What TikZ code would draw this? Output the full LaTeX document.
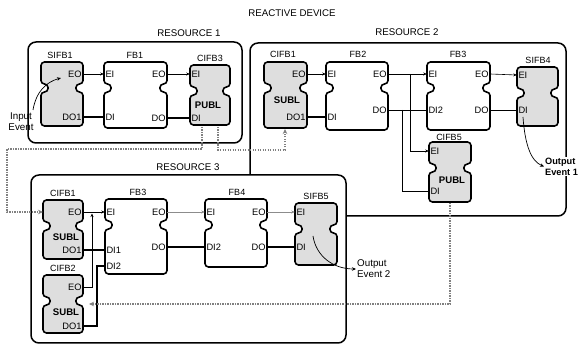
\documentclass[tikz,border=0pt]{standalone}
\usepackage{fontspec}
\setmainfont{Liberation Sans}
\usetikzlibrary{arrows.meta}
\tikzset{
 fbline/.style={line width=1.6pt, rounded corners=3.5pt, draw=black},
 ifb/.style={fbline, fill=black!13},
 wfb/.style={fbline, fill=white},
 port/.style={font=\fontsize{9.3}{10}\selectfont, inner sep=0pt},
 boldl/.style={font=\fontsize{9.6}{10}\selectfont\bfseries, inner sep=0pt},
 bname/.style={font=\fontsize{9}{10}\selectfont, inner sep=0pt},
 ttl/.style={font=\fontsize{9.7}{10}\selectfont, inner sep=0pt},
 res/.style={line width=1.5pt, rounded corners=8pt, draw=black, fill=white},
 ev/.style={line width=0.6pt, -{Stealth[length=3.5pt,width=3pt]}},
 evg/.style={ev, draw=black!45},
 dat/.style={line width=1.1pt},
 datt/.style={line width=0.6pt},
 dots/.style={draw=black!50, line width=1.6pt, dash pattern=on 1.2pt off 1.3pt, -{Stealth[length=5pt,width=4.5pt]}},
 curv/.style={line width=0.7pt, -{Stealth[length=4pt,width=3.5pt]}},
 evtxt/.style={font=\fontsize{9.8}{11}\selectfont, inner sep=1pt, align=left},
}
% block: name, L, T, R, B, style
\newcommand\fbk[6]{%
 \draw[#6] ({(#2+#4)/2},#3) -- (#4,#3) -- (#4,#3+22) -- (#4-7,#3+22) -- (#4-7,#3+30) -- (#4,#3+30) -- (#4,#5) -- (#2,#5) -- (#2,#3+30) -- (#2+7,#3+30) -- (#2+7,#3+22) -- (#2,#3+22) -- (#2,#3) -- cycle;
 \node[inner sep=0pt, minimum width={(#4-#2)*1pt}, minimum height={(#5-#3)*1pt}] (#1) at ({(#2+#4)/2},{(#3+#5)/2}) {};
}
% right port: coord name, block, y, text
\newcommand\pR[4]{\path (#2.east |- 0,#3) coordinate (#1) node[port, anchor=east, xshift=-1.5pt] {#4};}
\newcommand\pL[4]{\path (#2.west |- 0,#3) coordinate (#1) node[port, anchor=west, xshift=1.5pt] {#4};}
\begin{document}
\begin{tikzpicture}[x=1pt,y=-1pt]
\useasboundingbox (0,0) rectangle (579,347);

% titles
\node[ttl] (title) at (292,13) {REACTIVE DEVICE};
\node[ttl] (tr1) at (189,33) {RESOURCE 1};
\node[ttl] (tr2) at (407,32) {RESOURCE 2};
\node[ttl] (tr3) at (188,167) {RESOURCE 3};

% resources
\draw[res] (250,43) rectangle (566,216);
\draw[res] (28,42) rectangle (242,143);
\draw[res] (31,175) rectangle (346,343);

% ---------- blocks ----------
\fbk{sifbA}{41}{62}{83}{126}{ifb}
\fbk{fbA}{104}{62}{167}{128}{wfb}
\fbk{cifbC}{190}{65}{230}{125}{ifb}
\fbk{cifbB}{264}{62}{307}{128}{ifb}
\fbk{fbB}{326}{62}{388}{130}{wfb}
\fbk{fbC}{427}{62}{490}{130}{wfb}
\fbk{sifbD}{517}{67}{558}{126}{ifb}
\fbk{cifbE}{429}{142}{471}{202}{ifb}
\fbk{cifbR}{43}{200}{83}{259}{ifb}
\fbk{fbR}{105}{199}{167}{274}{wfb}
\fbk{fbD}{205}{199}{267}{267}{wfb}
\fbk{sifbF}{295}{203}{337}{265}{ifb}
\fbk{cifbG}{43}{275}{83}{333}{ifb}

% block names
\node[bname] (nA) at (60,55) {SIFB1};
\node[bname] (nB) at (135,55) {FB1};
\node[bname] (nC) at (210,58) {CIFB3};
\node[bname] (nD) at (283,54) {CIFB1};
\node[bname] (nE) at (358,54) {FB2};
\node[bname] (nF) at (458,54) {FB3};
\node[bname] (nG) at (538,60) {SIFB4};
\node[bname] (nH) at (449,137) {CIFB5};
\node[bname] (nI) at (63,193) {CIFB1};
\node[bname] (nJ) at (138,192) {FB3};
\node[bname] (nK) at (237,192) {FB4};
\node[bname] (nL) at (316,196) {SIFB5};
\node[bname] (nM) at (63,268) {CIFB2};

% ports resource 1
\pR{sA-EO}{sifbA}{74}{EO}
\pR{sA-DO1}{sifbA}{117}{DO1}
\pL{fA-EI}{fbA}{74}{EI}
\pR{fA-EO}{fbA}{74}{EO}
\pL{fA-DI}{fbA}{117}{DI}
\pR{fA-DO}{fbA}{118}{DO}
\pL{cC-EI}{cifbC}{74}{EI}
\pL{cC-DI}{cifbC}{118}{DI}
\node[boldl] (publA) at (208,105) {PUBL};

% ports resource 2
\pR{cB-EO}{cifbB}{74}{EO}
\pR{cB-DO1}{cifbB}{117}{DO1}
\node[boldl] (sublA) at (287,100) {SUBL};
\pL{fB-EI}{fbB}{74}{EI}
\pR{fB-EO}{fbB}{74}{EO}
\pL{fB-DI}{fbB}{117}{DI}
\pR{fB-DO}{fbB}{110}{DO}
\pL{fC-EI}{fbC}{74}{EI}
\pR{fC-EO}{fbC}{74}{EO}
\pL{fC-DI2}{fbC}{110}{DI2}
\pR{fC-DO}{fbC}{110}{DO}
\pL{sD-EI}{sifbD}{75}{EI}
\pL{sD-DI}{sifbD}{110}{DI}
\pL{cE-EI}{cifbE}{151}{EI}
\pL{cE-DI}{cifbE}{191}{DI}
\node[boldl] (publB) at (452,180) {PUBL};

% ports resource 3
\pR{cR-EO}{cifbR}{212}{EO}
\pR{cR-DO1}{cifbR}{250}{DO1}
\node[boldl] (sublB) at (66,237) {SUBL};
\pL{fR-EI}{fbR}{212}{EI}
\pR{fR-EO}{fbR}{212}{EO}
\pL{fR-DI1}{fbR}{250}{DI1}
\pL{fR-DI2}{fbR}{266}{DI2}
\pR{fR-DO}{fbR}{247}{DO}
\pL{fD-EI}{fbD}{212}{EI}
\pR{fD-EO}{fbD}{212}{EO}
\pL{fD-DI2}{fbD}{247}{DI2}
\pR{fD-DO}{fbD}{247}{DO}
\pL{sF-EI}{sifbF}{212}{EI}
\pL{sF-DI}{sifbF}{247}{DI}
\pR{cG-EO}{cifbG}{287}{EO}
\pR{cG-DO1}{cifbG}{326}{DO1}
\node[boldl] (sublC) at (66,312) {SUBL};

% ---------- connections ----------
% resource 1
\draw[ev] (sA-EO) -- (fA-EI);
\draw[ev] (fA-EO) -- (cC-EI);
\draw[dat] (sA-DO1) -- (fA-DI);
\draw[dat] (fA-DO) -- (cC-DI);
% resource 2
\draw[ev] (cB-EO) -- (fB-EI);
\draw[dat] (cB-DO1) -- (fB-DI);
\draw[ev] (fB-EO) -- (fC-EI);
\coordinate (brE) at (410,74);
\draw[ev] (brE) |- (cE-EI);
\draw[datt] (fB-DO) -- (fC-DI2);
\coordinate (brD) at (402,110);
\draw[datt] (brD) |- (cE-DI);
\draw[ev] (fC-EO) -- (sD-EI);
\draw[datt] (fC-DO) -- (sD-DI);
% resource 3
\draw[ev] (cR-EO) -- (fR-EI);
\coordinate (jn) at (92,213.5);
\draw[ev] (cG-EO) -| (jn);
\draw[dat] (cR-DO1) -- (fR-DI1);
\coordinate (kn) at (97,326);
\draw[dat] (cG-DO1) -- (kn) |- (fR-DI2);
\draw[evg] (fR-EO) -- (fD-EI);
\draw[dat] (fR-DO) -- (fD-DI2);
\draw[evg] (fD-EO) -- (sF-EI);
\draw[dat] (fD-DO) -- (sF-DI);

% ---------- dotted links ----------
\coordinate (dA) at (202,127);
\coordinate (dB) at (7,149);
\coordinate (cR-in) at (43,212);
\draw[dots] (dA) |- (dB) |- (cR-in);
\coordinate (dC) at (218,127);
\coordinate (dD) at (285,150);
\coordinate (cB-in) at (285,129);
\draw[dots] (dC) |- (dD) -- (cB-in);
\coordinate (dE) at (450,203);
\coordinate (cG-in) at (89,304);
\draw[dots] (dE) |- (cG-in);

% ---------- external events ----------
\node[evtxt, align=center] (inp) at (21,122) {Input\\Event};
\coordinate (inS) at (33,110);
\coordinate (inT) at (61,78);
\draw[curv] (inS) .. controls (36,92) and (46,82) .. (inT);

\node[evtxt, font=\fontsize{9.2}{11}\selectfont\bfseries, fill=white, anchor=west] (out1) at (544,166.5) {Output\\Event 1};
\coordinate (o1S) at (523,117);
\draw[curv] (o1S) .. controls (525,145) and (531,161) .. (out1.west);

\node[evtxt, anchor=west] (out2) at (356,269) {Output\\Event 2};
\coordinate (o2S) at (313,236);
\draw[curv] (o2S) .. controls (316,256) and (333,269) .. (out2.west);
\end{tikzpicture}
\end{document}
